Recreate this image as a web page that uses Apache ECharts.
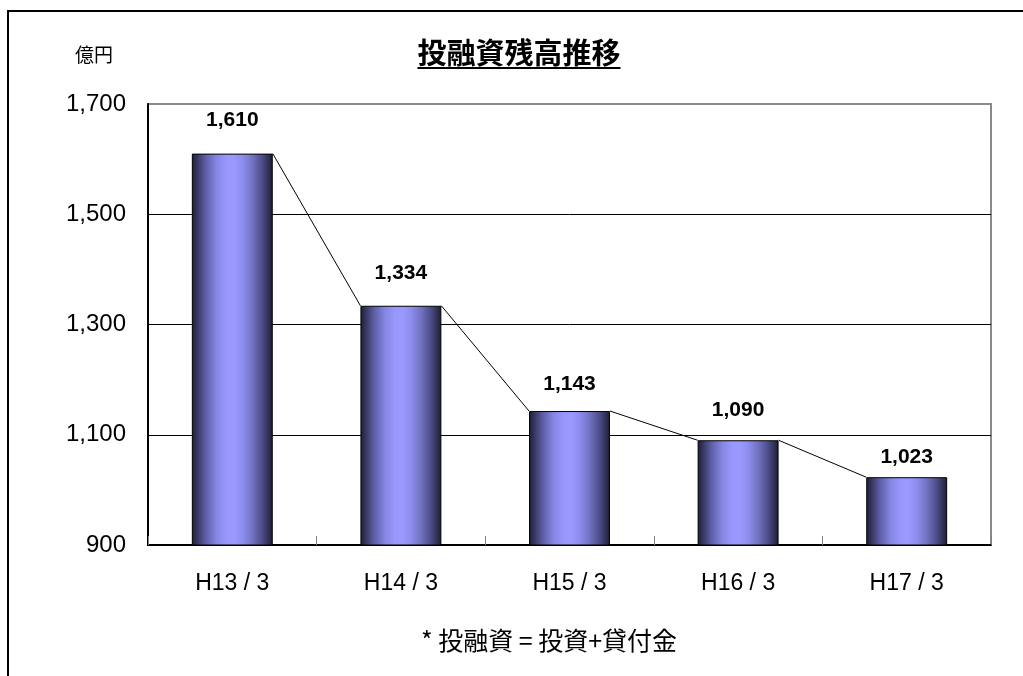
<!DOCTYPE html>
<html>
<head>
<meta charset="utf-8">
<script src="https://cdn.jsdelivr.net/npm/echarts@6/dist/echarts.min.js"></script>
<style>
  html, body { margin: 0; padding: 0; background: #fff; }
  #chart { width: 1023px; height: 676px; }
</style>
</head>
<body>
<div id="chart"></div>
<script>
// Year-end balances (億円)
const categories = ['H13/3', 'H14/3', 'H15/3', 'H16/3', 'H17/3'];
const balances = [1610, 1334, 1143, 1090, 1023];
const yTicks = [900, 1100, 1300, 1500, 1700];

const titleText = '投融資残高推移';
const unitText = '億円';
const noteText = '* 投融資 = 投資+貸付金';

// presentation
const NUM_FONT = '"Liberation Sans", Arial, sans-serif';
const CJK_FONT = '"Noto Sans CJK JP", "Noto Sans", sans-serif';
const BAR_RATIO = 0.48;
const labelGaps = [23, 22, 16, 20, 9];

const fmt = v => Number(v).toLocaleString('en-US');

const barGradient = new echarts.graphic.LinearGradient(0, 0, 1, 0, [
  { offset: 0.00, color: '#1e1e36' },
  { offset: 0.06, color: '#34345c' },
  { offset: 0.17, color: '#5e5ea6' },
  { offset: 0.30, color: '#8585e2' },
  { offset: 0.42, color: '#9797fc' },
  { offset: 0.52, color: '#9999ff' },
  { offset: 0.62, color: '#8e8ef0' },
  { offset: 0.74, color: '#7474c4' },
  { offset: 0.86, color: '#50508e' },
  { offset: 0.95, color: '#303054' },
  { offset: 1.00, color: '#1c1c32' }
]);

// title underline follows the measured text width
const titleFont = 'bold 29px ' + CJK_FONT;
const ctx = document.createElement('canvas').getContext('2d');
ctx.font = titleFont;
const titleW = ctx.measureText(titleText).width;
const titleX = 519;

// segments joining the top corners of neighbouring bars
const linkData = balances.slice(0, -1).map((v, i) => [i, v, balances[i + 1]]);

const chart = echarts.init(document.getElementById('chart'), null, { renderer: 'canvas' });

chart.setOption({
  backgroundColor: '#fff',
  animation: false,
  grid: {
    left: 148, right: 32, top: 104, bottom: 131,
    show: true, borderColor: '#8a8a8a', borderWidth: 2, backgroundColor: 'transparent'
  },
  xAxis: {
    type: 'category',
    data: categories,
    boundaryGap: true,
    axisLine: { lineStyle: { color: '#000', width: 2 } },
    axisTick: { show: true, inside: true, length: 9, lineStyle: { color: '#808080', width: 1 } },
    axisLabel: {
      margin: 27,
      color: '#000',
      fontFamily: NUM_FONT,
      fontSize: 23,
      formatter: s => s.replace('/', ' / ')
    }
  },
  yAxis: {
    type: 'value',
    min: yTicks[0],
    max: yTicks[yTicks.length - 1],
    interval: yTicks[1] - yTicks[0],
    axisLine: { show: true, lineStyle: { color: '#000', width: 2 } },
    axisTick: { show: false },
    splitLine: { show: true, showMinLine: false, showMaxLine: false, lineStyle: { color: '#000', width: 1 } },
    axisLabel: {
      margin: 22,
      color: '#000',
      fontFamily: NUM_FONT,
      fontSize: 24,
      formatter: v => fmt(v)
    }
  },
  series: [
    {
      type: 'bar',
      barWidth: (BAR_RATIO * 100) + '%',
      data: balances.map((v, i) => ({ value: v, label: { distance: labelGaps[i] } })),
      itemStyle: { color: barGradient, borderColor: '#000', borderWidth: 1 },
      label: {
        show: true,
        position: 'top',
        color: '#000',
        fontFamily: NUM_FONT,
        fontWeight: 'bold',
        fontSize: 21,
        formatter: p => fmt(p.value)
      },
      z: 2
    },
    {
      type: 'custom',
      data: linkData,
      silent: true,
      z: 3,
      renderItem: (params, api) => {
        const i = api.value(0);
        const a = api.coord([i, api.value(1)]);
        const b = api.coord([i + 1, api.value(2)]);
        const half = api.size([1, 0])[0] * BAR_RATIO / 2;
        return {
          type: 'line',
          shape: { x1: a[0] + half, y1: a[1], x2: b[0] - half, y2: b[1] },
          style: { stroke: '#000', lineWidth: 1 }
        };
      }
    }
  ],
  graphic: [
    {
      type: 'rect',
      shape: { x: 8, y: 11, width: 1100, height: 1000 },
      style: { fill: 'none', stroke: '#000', lineWidth: 2 },
      silent: true
    },
    {
      type: 'text',
      x: titleX, y: 53,
      style: { text: titleText, font: titleFont, fill: '#000', textAlign: 'center', textVerticalAlign: 'middle' }
    },
    {
      type: 'line',
      shape: { x1: titleX - titleW / 2, y1: 68, x2: titleX + titleW / 2, y2: 68 },
      style: { stroke: '#000', lineWidth: 2 }
    },
    {
      type: 'text',
      x: 94, y: 55,
      style: { text: unitText, font: '19px ' + CJK_FONT, fill: '#000', textAlign: 'center', textVerticalAlign: 'middle' }
    },
    {
      type: 'text',
      x: 549, y: 640,
      style: { text: noteText, font: '25px ' + CJK_FONT, fill: '#000', textAlign: 'center', textVerticalAlign: 'middle' }
    }
  ]
});
</script>
</body>
</html>
